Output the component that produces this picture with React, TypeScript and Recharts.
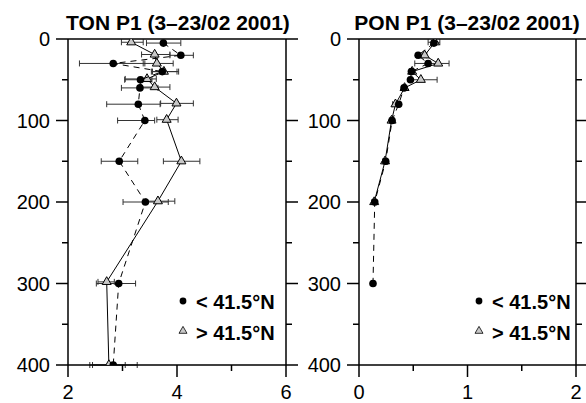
import { ScatterChart, Scatter, XAxis, YAxis, ErrorBar } from "recharts";

// axis ticks
const depthTicks = [0, 50, 100, 150, 200, 250, 300, 350, 400];
const tonTicks = [2, 3, 4, 5, 6];
const ponTicks = [0, 0.5, 1, 1.5, 2];

// TON, stations < 41.5°N (filled circles, dashed line)
const tonSouthDepth = [5, 20, 30, 40, 50, 60, 80, 100, 150, 200, 300, 400];
const tonSouth = [3.75, 4.07, 2.83, 3.73, 3.33, 3.32, 3.29, 3.41, 2.94, 3.42, 2.93, 2.83];
const tonSouthLo = [3.44, 3.87, 2.21, 3.53, 3.04, 2.98, 2.71, 2.91, 2.61, 3.01, 2.52, 2.4];
const tonSouthHi = [4.07, 4.3, 3.41, 4.03, 3.54, 3.65, 3.69, 3.59, 3.28, 3.84, 3.24, 3.27];

// TON, stations > 41.5°N (grey triangles, solid line)
const tonNorthDepth = [4, 19, 30, 40, 49, 59, 79, 99, 150, 199, 298, 400];
const tonNorth = [3.16, 3.59, 3.63, 3.76, 3.45, 3.59, 3.99, 3.81, 4.08, 3.65, 2.71, 2.75];
const tonNorthLo = [2.98, 3.35, 3.38, 3.55, 3.05, 3.35, 3.7, 3.63, 3.75, 3.43, 2.55, 2.45];
const tonNorthHi = [3.38, 3.87, 3.93, 4.0, 3.62, 3.87, 4.3, 4.02, 4.42, 3.96, 2.85, 3.05];

// PON, stations < 41.5°N
const ponSouthDepth = [5, 20, 30, 40, 50, 60, 80, 100, 150, 200, 300];
const ponSouth = [0.69, 0.545, 0.637, 0.483, 0.474, 0.415, 0.366, 0.305, 0.246, 0.145, 0.129];
const ponSouthLo = [0.67, 0.53, 0.62, 0.47, 0.46, 0.4, 0.35, 0.29, 0.23, 0.13, 0.115];
const ponSouthHi = [0.71, 0.56, 0.655, 0.5, 0.49, 0.43, 0.38, 0.32, 0.26, 0.16, 0.145];

// PON, stations > 41.5°N
const ponNorthDepth = [4, 20, 30, 40, 50, 60, 80, 100, 150, 200];
const ponNorth = [0.7, 0.605, 0.73, 0.49, 0.57, 0.42, 0.336, 0.3, 0.24, 0.14];
const ponNorthLo = [0.637, 0.59, 0.514, 0.47, 0.483, 0.4, 0.31, 0.28, 0.22, 0.12];
const ponNorthHi = [0.745, 0.625, 0.83, 0.51, 0.72, 0.44, 0.36, 0.32, 0.26, 0.16];

const FONT = "'Liberation Sans', Arial, Helvetica, sans-serif";

function rows(depth: number[], val: number[], lo: number[], hi: number[]) {
  return depth.map((d, i) => ({
    depth: d,
    x: val[i],
    err: [val[i] - lo[i], hi[i] - val[i]],
  }));
}

const Dot = (p: any) => <circle cx={p.cx} cy={p.cy} r={3.8} fill="#000" />;

const Tri = (p: any) => {
  const s = 9;
  const h = (s * Math.sqrt(3)) / 2;
  const { cx, cy } = p;
  return (
    <path
      d={`M${cx},${cy - (2 * h) / 3}L${cx + s / 2},${cy + h / 3}L${cx - s / 2},${cy + h / 3}Z`}
      fill="#c8c8c8"
      stroke="#000"
      strokeWidth={1}
    />
  );
};

// custom tick: major ticks 12px with label, minor ticks 6px
function makeTick(side: string, isMajor: (v: number) => boolean, showLabel: boolean) {
  return (props: any) => {
    const { x, y, payload } = props;
    const v = payload.value;
    const major = isMajor(v);
    const len = major ? 12 : 6;
    const ln = { stroke: "#000", strokeWidth: 1.5 };
    let line = null;
    let label = null;
    if (side === "left") {
      const ax = x + 18;
      line = <line x1={ax - len} x2={ax} y1={y} y2={y} {...ln} />;
      if (showLabel && major)
        label = (
          <text x={x} y={y} dy="0.36em" textAnchor="end" fontSize={20} fontFamily={FONT} fill="#000">
            {v}
          </text>
        );
    } else if (side === "right") {
      const ax = x - 12;
      line = <line x1={ax} x2={ax + len} y1={y} y2={y} {...ln} />;
    } else if (side === "bottom") {
      const ay = y - 20;
      line = <line x1={x} x2={x} y1={ay} y2={ay + len} {...ln} />;
      if (showLabel && major)
        label = (
          <text x={x} y={y} dy="0.71em" textAnchor="middle" fontSize={20} fontFamily={FONT} fill="#000">
            {v}
          </text>
        );
    } else {
      const ay = y + 12;
      line = <line x1={x} x2={x} y1={ay - len} y2={ay} {...ln} />;
    }
    return (
      <g>
        {line}
        {label}
      </g>
    );
  };
}

const axisLine = { stroke: "#000", strokeWidth: 1.5 };
const depthMajor = (v: number) => v % 100 === 0;

function Panel(props: {
  width: number;
  rightWidth: number;
  domain: [number, number];
  ticks: number[];
  xMajor: (v: number) => boolean;
  south: any[];
  north: any[];
}) {
  const { width, rightWidth, domain, ticks, xMajor, south, north } = props;
  return (
    <ScatterChart width={width} height={403} margin={{ top: 0, right: 0, bottom: 0, left: 0 }}>
      <XAxis
        type="number"
        dataKey="x"
        domain={domain}
        ticks={ticks}
        allowDataOverflow
        height={38}
        tickSize={12}
        tickMargin={8}
        tickLine={false}
        axisLine={axisLine}
        tick={makeTick("bottom", xMajor, true)}
      />
      <XAxis
        xAxisId="t"
        orientation="top"
        type="number"
        domain={domain}
        ticks={ticks}
        allowDataOverflow
        height={39}
        tickSize={12}
        tickMargin={0}
        tickLine={false}
        axisLine={axisLine}
        tick={makeTick("top", xMajor, false)}
      />
      <YAxis
        type="number"
        dataKey="depth"
        reversed
        domain={[0, 400]}
        ticks={depthTicks}
        allowDataOverflow
        width={68}
        tickSize={12}
        tickMargin={6}
        tickLine={false}
        axisLine={axisLine}
        tick={makeTick("left", depthMajor, true)}
      />
      <YAxis
        yAxisId="r"
        orientation="right"
        type="number"
        reversed
        domain={[0, 400]}
        ticks={depthTicks}
        allowDataOverflow
        width={rightWidth}
        tickSize={12}
        tickMargin={0}
        tickLine={false}
        axisLine={axisLine}
        tick={makeTick("right", depthMajor, false)}
      />
      <Scatter
        data={north}
        line={{ stroke: "#000", strokeWidth: 1 }}
        lineType="joint"
        shape={Tri}
        isAnimationActive={false}
      >
        <ErrorBar dataKey="err" direction="x" width={3} stroke="#333" strokeWidth={1} />
      </Scatter>
      <Scatter
        data={south}
        line={{ stroke: "#000", strokeWidth: 1, strokeDasharray: "6 5" }}
        lineType="joint"
        shape={Dot}
        isAnimationActive={false}
      >
        <ErrorBar dataKey="err" direction="x" width={3} stroke="#333" strokeWidth={1} />
      </Scatter>
    </ScatterChart>
  );
}

function LegendBlock({ x }: { x: number }) {
  const s = 8;
  const h = (s * Math.sqrt(3)) / 2;
  const ty = 331;
  return (
    <g fontFamily={FONT} fontWeight="bold" fontSize={20} fill="#000">
      <circle cx={x} cy={301} r={3.4} fill="#000" />
      <text x={x + 13} y={308.5}>
        {"< 41.5°N"}
      </text>
      <path
        d={`M${x},${ty - (2 * h) / 3}L${x + s / 2},${ty + h / 3}L${x - s / 2},${ty + h / 3}Z`}
        fill="#c8c8c8"
        stroke="#000"
        strokeWidth={0.8}
      />
      <text x={x + 13} y={340}>
        {"> 41.5°N"}
      </text>
    </g>
  );
}

export default function App() {
  const tonS = rows(tonSouthDepth, tonSouth, tonSouthLo, tonSouthHi);
  const tonN = rows(tonNorthDepth, tonNorth, tonNorthLo, tonNorthHi);
  const ponS = rows(ponSouthDepth, ponSouth, ponSouthLo, ponSouthHi);
  const ponN = rows(ponNorthDepth, ponNorth, ponNorthLo, ponNorthHi);

  return (
    <div style={styles.page}>
      <div style={{ position: "absolute", left: 0, top: 0 }}>
        <Panel
          width={300}
          rightWidth={14}
          domain={[2, 6]}
          ticks={tonTicks}
          xMajor={(v) => v % 2 === 0}
          south={tonS}
          north={tonN}
        />
      </div>
      <div style={{ position: "absolute", left: 291, top: 0 }}>
        <Panel
          width={295}
          rightWidth={10}
          domain={[0, 2]}
          ticks={ponTicks}
          xMajor={(v) => Number.isInteger(v)}
          south={ponS}
          north={ponN}
        />
      </div>
      <svg width={586} height={403} style={styles.overlay}>
        <text x={178} y={30} textAnchor="middle" fontFamily={FONT} fontWeight="bold" fontSize={21}>
          TON P1 (3–23/02 2001)
        </text>
        <text x={467} y={30} textAnchor="middle" fontFamily={FONT} fontWeight="bold" fontSize={21}>
          PON P1 (3–23/02 2001)
        </text>
        <LegendBlock x={183} />
        <LegendBlock x={479} />
      </svg>
    </div>
  );
}

const styles: Record<string, React.CSSProperties> = {
  page: {
    position: "absolute",
    left: 0,
    top: 0,
    width: 586,
    height: 403,
    overflow: "hidden",
    background: "#fff",
  },
  overlay: {
    position: "absolute",
    left: 0,
    top: 0,
    pointerEvents: "none",
  },
};
